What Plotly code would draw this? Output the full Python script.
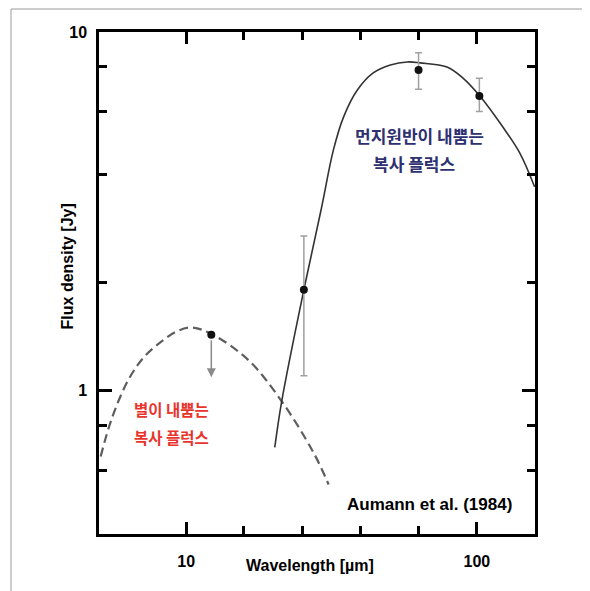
import numpy as np
import plotly.graph_objects as go

# ---- data ----
obs_wl = [25.4, 63.0, 102.0]          # micron
obs_flux = [1.91, 7.84, 6.63]         # Jy
obs_err_plus = [0.79, 0.91, 0.80]
obs_err_minus = [0.81, 0.92, 0.63]

limit_wl = [12.2]
limit_flux = [1.43]
limit_tip = [1.09]

star_wl = [5.08, 5.53, 6.33, 7.18, 8.21, 9.24, 10.4, 12.18, 16.3, 21.1, 27.4, 30.9]
star_flux = [0.655, 0.830, 1.073, 1.243, 1.369, 1.46, 1.50, 1.44, 1.22, 0.944, 0.672, 0.547]

dust_wl = [20.17, 21.3, 25.4, 29.2, 32.1, 34.8, 38.8, 44.0, 50.4, 57.6, 63.8, 78.9, 89.6, 102.4, 122.7, 140.4, 158.0]
dust_flux = [0.694, 0.932, 1.911, 3.23, 4.69, 5.80, 6.89, 7.69, 8.09, 8.25, 8.20, 7.99, 7.44, 6.63, 5.44, 4.60, 3.70]

x_major = [10, 100]
x_major_text = ["10", "100"]
x_minor = [15.8, 25.1, 39.8, 63.1]
y_major = [1, 10]
y_major_text = ["1", "10"]
y_minor = [0.6, 0.8, 2, 4, 6, 8]

FONT = "Liberation Sans, Arial, Noto Sans CJK KR, sans-serif"
KFONT = "Noto Sans CJK KR, sans-serif"

fig = go.Figure()

fig.add_trace(go.Scatter(x=star_wl, y=star_flux, mode="lines",
                         line=dict(color="#5e5e5e", width=2.2, dash="9px,5px", shape="spline"),
                         hoverinfo="skip", showlegend=False))
fig.add_trace(go.Scatter(x=dust_wl, y=dust_flux, mode="lines",
                         line=dict(color="#333333", width=1.6, shape="spline"),
                         hoverinfo="skip", showlegend=False))
fig.add_trace(go.Scatter(x=obs_wl, y=obs_flux, mode="markers",
                         marker=dict(color="#111111", size=8),
                         error_y=dict(type="data", symmetric=False, array=obs_err_plus,
                                      arrayminus=obs_err_minus, color="#a0a0a0",
                                      thickness=1.5, width=3.5),
                         showlegend=False))
fig.add_trace(go.Scatter(x=limit_wl, y=limit_flux, mode="markers",
                         marker=dict(color="#111111", size=8), showlegend=False))

for wl, f0, f1 in zip(limit_wl, limit_flux, limit_tip):
    fig.add_annotation(x=np.log10(wl), y=np.log10(f1), ax=np.log10(wl), ay=np.log10(f0),
                       xref="x", yref="y", axref="x", ayref="y", text="",
                       showarrow=True, arrowhead=2, arrowsize=1.2, arrowwidth=1.5,
                       arrowcolor="#8a8a8a", standoff=0, startstandoff=4)

axis_common = dict(type="log", showgrid=False, zeroline=False, showline=True,
                   linecolor="black", linewidth=2.5, mirror="ticks",
                   ticks="inside", tickcolor="black", tickwidth=2.5,
                   tickfont=dict(family=FONT, size=16, color="black", weight="bold"))

fig.update_xaxes(range=[0.7, 2.2], tickvals=x_major, ticktext=x_major_text, ticklen=12,
                 ticklabelstandoff=11,
                 minor=dict(tickvals=x_minor, ticklen=8, tickwidth=2.5, ticks="inside",
                            tickcolor="black", showgrid=False),
                 **axis_common)
fig.update_yaxes(range=[-0.4, 1.0], tickvals=y_major, ticktext=y_major_text, ticklen=13,
                 ticklabelstandoff=6,
                 minor=dict(tickvals=y_minor, ticklen=8, tickwidth=2.5, ticks="inside",
                            tickcolor="black", showgrid=False),
                 **axis_common)


def label(text, x, y, size, color, family=FONT, angle=0):
    fig.add_annotation(text=text, xref="paper", yref="paper", x=x, y=y,
                       xanchor="center", yanchor="middle", textangle=angle,
                       showarrow=False,
                       font=dict(family=family, size=size, color=color, weight="bold"))


# axis titles
label("Wavelength [µm]", 0.484, -0.0637, 16, "black")
label("Flux density [Jy]", -0.0722, 0.532, 16, "black", angle=-90)

# labels
navy = "#2e3070"
red = "#e8342c"
label("먼지원반이 내뿜는", 0.735, 0.793, 17, navy, KFONT)
label("복사 플럭스", 0.7225, 0.739, 17, navy, KFONT)
label("별이 내뿜는", 0.1674, 0.249, 15.5, red, KFONT)
label("복사 플럭스", 0.1674, 0.193, 15.5, red, KFONT)
label("Aumann et al. (1984)", 0.759, 0.0578, 17, "black")

# outer gray frame of the original figure
fig.add_shape(type="line", xref="paper", yref="paper", x0=-0.2018, x1=1.2, y0=1.0458, y1=1.0458,
              line=dict(color="#9a9a9a", width=1))
fig.add_shape(type="line", xref="paper", yref="paper", x0=-0.2018, x1=-0.2018, y0=-0.2, y1=1.0458,
              line=dict(color="#9a9a9a", width=1))

# page body has an 8px margin, so the figure is 8px smaller and margins shifted
fig.update_layout(width=582, height=583, margin=dict(l=91, r=55, t=24, b=57),
                  paper_bgcolor="white", plot_bgcolor="white", showlegend=False)

fig.write_html("out.html")
